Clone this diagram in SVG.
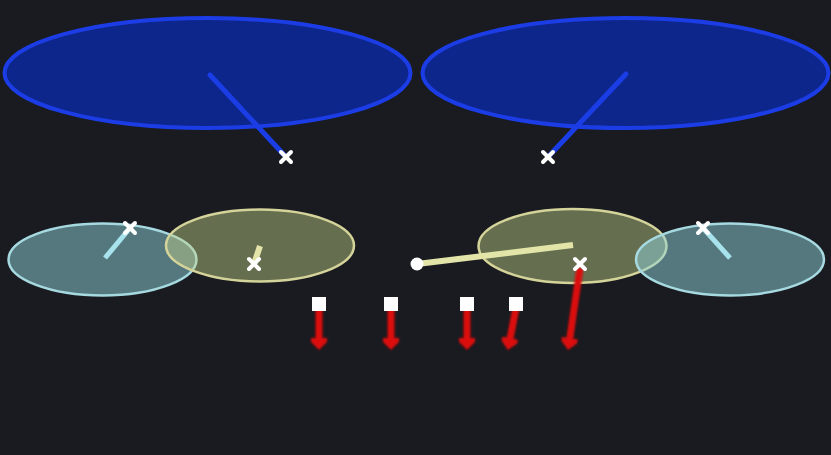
<svg xmlns="http://www.w3.org/2000/svg" width="831" height="455" viewBox="0 0 831 455">
<defs>
<style>
.blue{fill:#10278c;stroke:#1a3de6;stroke-width:4}
.cyan{fill:#8fd4dc;fill-opacity:0.5;stroke:#a6d9e0;stroke-width:2.5}
.olive{fill:#c6d28a;fill-opacity:0.45;stroke:#d4d49a;stroke-width:2.5}
.bl{stroke:#1a3de6;stroke-width:5;stroke-linecap:round;fill:none}
.cl{stroke:#a8e2ec;stroke-width:5;fill:none}
.ol{stroke:#e2e4a8;stroke-width:6;fill:none}
.x{stroke:#ffffff;stroke-width:4;stroke-linecap:round}
.rd{stroke:#dc0c0c;stroke-width:7;fill:none;marker-end:url(#ah)}
.sq{fill:#ffffff}
</style>
<marker id="ah" viewBox="0 -9 13 18" refX="6" refY="0" markerWidth="13" markerHeight="18" markerUnits="userSpaceOnUse" orient="auto">
<path d="M0,-8 L4,-8 L12,0 L4,8 L0,8 Z" fill="#dc0c0c"/>
</marker>
<linearGradient id="rg" gradientUnits="userSpaceOnUse" x1="580" y1="268" x2="577" y2="286">
<stop offset="0" stop-color="#e08a80"/>
<stop offset="1" stop-color="#dc0c0c"/>
</linearGradient>
<filter id="glow" x="-50%" y="-20%" width="200%" height="140%"><feGaussianBlur stdDeviation="1"/></filter>
<filter id="soft" x="-5%" y="-10%" width="110%" height="120%"><feGaussianBlur stdDeviation="0.7"/></filter>
</defs>
<rect width="831" height="455" fill="#191b20"/>
<g id="nodes" filter="url(#soft)">
<g id="blueL"><ellipse class="blue" cx="207.5" cy="73" rx="203" ry="55"/></g>
<g id="blueR"><ellipse class="blue" cx="625.5" cy="73" rx="203" ry="55"/></g>
<g id="cyanL"><ellipse class="cyan" cx="102.5" cy="259.5" rx="94" ry="36"/></g>
<g id="oliveL"><ellipse class="olive" cx="260" cy="245.5" rx="94" ry="36"/></g>
<g id="oliveR"><ellipse class="olive" cx="572.5" cy="246" rx="94" ry="37"/></g>
<g id="cyanR"><ellipse class="cyan" cx="730" cy="259.5" rx="94" ry="36"/></g>
</g>
<g id="connectors">
<line class="bl" x1="210" y1="75" x2="286" y2="157"/>
<line class="bl" x1="626" y1="74" x2="548" y2="157"/>
<line class="cl" x1="105" y1="258" x2="130" y2="228"/>
<line class="ol" x1="260" y1="246" x2="254" y2="264"/>
<line class="ol" x1="417" y1="264" x2="573" y2="245"/>
<line class="cl" x1="730" y1="258" x2="703" y2="228"/>
<g filter="url(#glow)">
<line class="rd" x1="319" y1="308" x2="319" y2="344"/>
<line class="rd" x1="391" y1="308" x2="391" y2="344"/>
<line class="rd" x1="467" y1="308" x2="467" y2="344"/>
<line class="rd" x1="516" y1="308" x2="509" y2="344"/>
<line class="rd" x1="580" y1="268" x2="569" y2="344" stroke="url(#rg)"/>
</g>
</g>
<g id="markers">
<g id="x1" class="x"><line x1="281" y1="152" x2="291" y2="162"/><line x1="291" y1="152" x2="281" y2="162"/></g>
<g id="x2" class="x"><line x1="543" y1="152" x2="553" y2="162"/><line x1="553" y1="152" x2="543" y2="162"/></g>
<g id="x3" class="x"><line x1="125" y1="223" x2="135" y2="233"/><line x1="135" y1="223" x2="125" y2="233"/></g>
<g id="x4" class="x"><line x1="249" y1="259" x2="259" y2="269"/><line x1="259" y1="259" x2="249" y2="269"/></g>
<g id="x5" class="x"><line x1="575" y1="259" x2="585" y2="269"/><line x1="585" y1="259" x2="575" y2="269"/></g>
<g id="x6" class="x"><line x1="698" y1="223" x2="708" y2="233"/><line x1="708" y1="223" x2="698" y2="233"/></g>
<g id="dot"><circle cx="417" cy="264" r="6.5" fill="#ffffff"/></g>
<rect class="sq" x="312" y="297" width="14" height="14"/>
<rect class="sq" x="384" y="297" width="14" height="14"/>
<rect class="sq" x="460" y="297" width="14" height="14"/>
<rect class="sq" x="509" y="297" width="14" height="14"/>
</g>
</svg>
